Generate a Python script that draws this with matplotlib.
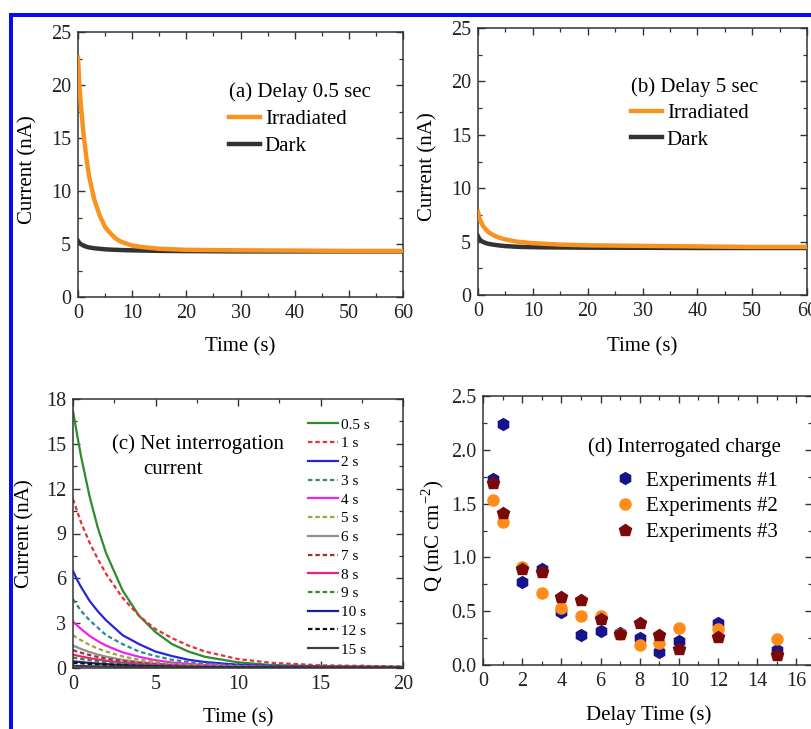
import matplotlib
matplotlib.use("Agg")
import matplotlib.pyplot as plt
from matplotlib.patches import Rectangle
from matplotlib.ticker import MultipleLocator

plt.rcParams['font.family'] = ['Liberation Serif', 'DejaVu Serif']
plt.rcParams['mathtext.fontset'] = 'custom'
plt.rcParams['mathtext.rm'] = 'Liberation Serif'

# ---------------- data ----------------
# panels (a), (b): time (s)
t_ab = [0, 0.25, 0.5, 1, 1.5, 2, 3, 4, 5, 6, 7, 8, 10, 12, 15, 20, 30, 40, 50, 60]
a_irr = [22.6, 20.0, 18.3, 15.5, 13.3, 11.5, 9.2, 7.7, 6.6, 6.0, 5.5, 5.2, 4.85, 4.7, 4.55,
         4.45, 4.4, 4.38, 4.35, 4.35]
a_dark = [5.3, 5.1, 5.0, 4.85, 4.75, 4.68, 4.6, 4.55, 4.5, 4.47, 4.45, 4.43, 4.4, 4.38,
          4.35, 4.33, 4.3, 4.3, 4.3, 4.3]
b_irr = [7.8, 7.2, 6.9, 6.4, 6.1, 5.85, 5.55, 5.35, 5.2, 5.1, 5.0, 4.95, 4.85, 4.8, 4.72,
         4.65, 4.6, 4.55, 4.5, 4.5]
b_dark = [5.5, 5.25, 5.1, 4.95, 4.85, 4.78, 4.7, 4.63, 4.58, 4.55, 4.52, 4.5, 4.48, 4.46,
          4.45, 4.43, 4.42, 4.4, 4.4, 4.4]

# panel (c): net interrogation current per delay
t_c = [0, 0.25, 0.5, 1, 1.5, 2, 3, 4, 5, 6, 7, 8, 10, 12, 15, 20]
c_labels = ['0.5 s', '1 s', '2 s', '3 s', '4 s', '5 s', '6 s', '7 s', '8 s', '9 s',
            '10 s', '12 s', '15 s']
c_05 = [17.2, 15.6, 14.1, 11.5, 9.4, 7.7, 5.2, 3.5, 2.4, 1.6, 1.1, 0.75, 0.38, 0.2, 0.12, 0.08]
c_1 = [11.3, 10.5, 9.7, 8.4, 7.3, 6.3, 4.7, 3.5, 2.6, 2.0, 1.5, 1.1, 0.6, 0.35, 0.18, 0.1]
c_2 = [6.5, 5.9, 5.4, 4.5, 3.8, 3.2, 2.2, 1.6, 1.1, 0.8, 0.55, 0.4, 0.22, 0.13, 0.08, 0.06]
c_3 = [4.6, 4.2, 3.8, 3.2, 2.7, 2.2, 1.6, 1.1, 0.8, 0.55, 0.4, 0.3, 0.16, 0.1, 0.06, 0.05]
c_4 = [3.1, 2.85, 2.6, 2.15, 1.8, 1.5, 1.05, 0.75, 0.52, 0.37, 0.27, 0.2, 0.11, 0.07, 0.05, 0.04]
c_5 = [2.2, 2.0, 1.85, 1.55, 1.3, 1.1, 0.78, 0.56, 0.4, 0.29, 0.21, 0.16, 0.09, 0.06, 0.04, 0.03]
c_6 = [1.5, 1.38, 1.27, 1.07, 0.9, 0.76, 0.55, 0.4, 0.29, 0.21, 0.16, 0.12, 0.07, 0.05, 0.03, 0.03]
c_7 = [1.2, 1.1, 1.02, 0.87, 0.74, 0.63, 0.46, 0.34, 0.25, 0.19, 0.14, 0.11, 0.07, 0.05, 0.03, 0.02]
c_8 = [0.9, 0.83, 0.77, 0.66, 0.57, 0.49, 0.36, 0.27, 0.2, 0.15, 0.12, 0.09, 0.06, 0.04, 0.03, 0.02]
c_9 = [0.7, 0.65, 0.6, 0.52, 0.45, 0.39, 0.29, 0.22, 0.17, 0.13, 0.1, 0.08, 0.05, 0.04, 0.03, 0.02]
c_10 = [0.45, 0.42, 0.39, 0.34, 0.3, 0.26, 0.2, 0.15, 0.12, 0.09, 0.07, 0.06, 0.04, 0.03, 0.02, 0.02]
c_12 = [0.35, 0.33, 0.31, 0.27, 0.24, 0.21, 0.16, 0.13, 0.1, 0.08, 0.06, 0.05, 0.04, 0.03, 0.02, 0.02]
c_15 = [0.15, 0.14, 0.13, 0.12, 0.11, 0.1, 0.08, 0.07, 0.06, 0.05, 0.04, 0.03, 0.03, 0.02, 0.02, 0.01]
c_series = [c_05, c_1, c_2, c_3, c_4, c_5, c_6, c_7, c_8, c_9, c_10, c_12, c_15]

# panel (d): interrogated charge
delay = [0.5, 1, 2, 3, 4, 5, 6, 7, 8, 9, 10, 12, 15]
q_exp1 = [1.73, 2.24, 0.77, 0.89, 0.49, 0.28, 0.32, 0.30, 0.25, 0.12, 0.22, 0.39, 0.14]
q_exp2 = [1.53, 1.33, 0.91, 0.67, 0.53, 0.46, 0.46, 0.29, 0.19, 0.20, 0.34, 0.33, 0.24]
q_exp3 = [1.69, 1.41, 0.89, 0.86, 0.63, 0.60, 0.43, 0.29, 0.39, 0.28, 0.15, 0.26, 0.09]

# ---------------- style ----------------
ORANGE = '#F7931E'
DARK = '#333333'
c_colors = ['#2E8B2E', '#E8303A', '#2626E0', '#2E8A8A', '#F020F0', '#A4A040', '#909090',
            '#A03030', '#F0207A', '#2E8B2E', '#20208C', '#111111', '#404040']
c_styles = ['-', '--', '-', '--', '-', '--', '-', '--', '-', '--', '-', '--', '-']

W, H = 811, 729
fig = plt.figure(figsize=(W / 100, H / 100), dpi=100)
fig.patch.set_facecolor('white')

TICK_FS = 14.5
LAB_FS = 15


def px_axes(l, t, r, b):
    return fig.add_axes([l / W, 1 - b / H, (r - l) / W, (b - t) / H])


def fx(x):
    return x / W


def fy(y):
    return 1 - y / H


def style_axes(ax):
    for s in ax.spines.values():
        s.set_linewidth(1.1)
        s.set_color('#333333')
    ax.tick_params(which='both', direction='in', top=True, right=True,
                   labelsize=TICK_FS, colors='#333333', labelcolor='#222222')
    ax.tick_params(which='major', length=5, width=1.0, pad=5)
    ax.tick_params(which='minor', length=3, width=0.9)


# blue frame
fig.add_artist(Rectangle((fx(9), fy(17)), 1 - fx(9), (17 - 13) / H, transform=fig.transFigure,
                         facecolor='#0A0AF5', edgecolor='none'))
fig.add_artist(Rectangle((fx(9), 0), (13 - 9) / W, fy(13), transform=fig.transFigure,
                         facecolor='#0A0AF5', edgecolor='none'))

# ---------------- (a) ----------------
axa = px_axes(78, 32, 403, 297)
axa.plot(t_ab, a_irr, color=ORANGE, lw=3.2, label='Irradiated', zorder=3)
axa.plot(t_ab, a_dark, color=DARK, lw=3.2, label='Dark', zorder=2)
axa.set_xlim(0, 60)
axa.set_ylim(0, 25)
axa.xaxis.set_major_locator(MultipleLocator(10))
axa.xaxis.set_minor_locator(MultipleLocator(5))
axa.yaxis.set_major_locator(MultipleLocator(5))
axa.yaxis.set_minor_locator(MultipleLocator(2.5))
style_axes(axa)
axa.set_xlabel('Time (s)', fontsize=LAB_FS, va='center')
axa.xaxis.set_label_coords(0.5, -0.189)
axa.set_ylabel('Current (nA)', fontsize=LAB_FS, va='center')
axa.yaxis.set_label_coords(-0.154, 0.48)
axa.legend(title='(a) Delay 0.5 sec', alignment='left', loc='upper left',
           bbox_to_anchor=(fx(229), fy(82)), bbox_transform=fig.transFigure,
           frameon=False, fontsize=LAB_FS, title_fontsize=LAB_FS, borderpad=0,
           borderaxespad=0, handlelength=1.5, handletextpad=0.22, labelspacing=0.36)

# ---------------- (b) ----------------
axb = px_axes(478, 28, 807, 295)
axb.plot(t_ab, b_irr, color=ORANGE, lw=3.2, label='Irradiated', zorder=3)
axb.plot(t_ab, b_dark, color=DARK, lw=3.2, label='Dark', zorder=2)
axb.set_xlim(0, 60)
axb.set_ylim(0, 25)
axb.xaxis.set_major_locator(MultipleLocator(10))
axb.xaxis.set_minor_locator(MultipleLocator(5))
axb.yaxis.set_major_locator(MultipleLocator(5))
axb.yaxis.set_minor_locator(MultipleLocator(2.5))
style_axes(axb)
axb.set_xlabel('Time (s)', fontsize=LAB_FS, va='center')
axb.xaxis.set_label_coords(0.5, -0.195)
axb.set_ylabel('Current (nA)', fontsize=LAB_FS, va='center')
axb.yaxis.set_label_coords(-0.152, 0.48)
axb.legend(title='(b) Delay 5 sec', alignment='left', loc='upper left',
           bbox_to_anchor=(fx(631), fy(77)), bbox_transform=fig.transFigure,
           frameon=False, fontsize=LAB_FS, title_fontsize=LAB_FS, borderpad=0,
           borderaxespad=0, handlelength=1.5, handletextpad=0.22, labelspacing=0.33)

# ---------------- (c) ----------------
axc = px_axes(73, 399, 403, 668)
for ys, lab, col, ls in zip(c_series, c_labels, c_colors, c_styles):
    axc.plot(t_c, ys, color=col, ls=ls, lw=1.6, label=lab,
             dashes=(2.0, 1.3) if ls == '--' else (None, None))
axc.set_xlim(0, 20)
axc.set_ylim(0, 18)
axc.xaxis.set_major_locator(MultipleLocator(5))
axc.xaxis.set_minor_locator(MultipleLocator(2.5))
axc.yaxis.set_major_locator(MultipleLocator(3))
axc.yaxis.set_minor_locator(MultipleLocator(1.5))
style_axes(axc)
axc.set_xlabel('Time (s)', fontsize=LAB_FS, va='center')
axc.xaxis.set_label_coords(0.5, -0.184)
axc.set_ylabel('Current (nA)', fontsize=LAB_FS, va='center')
axc.yaxis.set_label_coords(-0.145, 0.5)
axc.text(fx(112), fy(444), '(c) Net interrogation', transform=fig.transFigure,
         fontsize=LAB_FS, va='center', ha='left')
axc.text(fx(143), fy(469), 'current', transform=fig.transFigure,
         fontsize=LAB_FS, va='center', ha='left')
axc.legend(loc='upper left', bbox_to_anchor=(fx(308), fy(418)), bbox_transform=fig.transFigure,
           frameon=False, fontsize=11, borderpad=0, borderaxespad=0, handlelength=1.95,
           handletextpad=0.2, labelspacing=0.33)

# ---------------- (d) ----------------
axd = px_axes(483, 396, 812, 665)
axd.plot(delay, q_exp1, ls='none', marker='h', ms=8.5, color='#14148C', label='Experiments #1', zorder=3)
axd.plot(delay, q_exp2, ls='none', marker='o', ms=8, color='#FF8C1A', label='Experiments #2', zorder=3)
axd.plot(delay, q_exp3, ls='none', marker='p', ms=9, color='#7A0A0A', label='Experiments #3', zorder=3)
axd.set_xlim(0, 16.8)
axd.set_ylim(0, 2.5)
axd.xaxis.set_major_locator(MultipleLocator(2))
axd.xaxis.set_minor_locator(MultipleLocator(1))
axd.yaxis.set_major_locator(MultipleLocator(0.5))
axd.yaxis.set_minor_locator(MultipleLocator(0.25))
axd.yaxis.set_major_formatter(matplotlib.ticker.FormatStrFormatter('%.1f'))
style_axes(axd)
axd.set_xlabel('Delay Time (s)', fontsize=LAB_FS, va='center')
axd.xaxis.set_label_coords(0.505, -0.188)
axd.set_ylabel(r'Q (mC cm$^{-2}$)', fontsize=LAB_FS, va='center')
axd.yaxis.set_label_coords(-0.152, 0.48)
axd.text(fx(588), fy(447), '(d) Interrogated charge', transform=fig.transFigure,
         fontsize=LAB_FS, va='center', ha='left')
axd.legend(loc='upper left', bbox_to_anchor=(fx(615), fy(471)), bbox_transform=fig.transFigure,
           frameon=False, fontsize=LAB_FS, borderpad=0, borderaxespad=0, handlelength=1.0,
           handletextpad=0.5, labelspacing=0.3, numpoints=1)

fig.savefig('out.png', dpi=100)
